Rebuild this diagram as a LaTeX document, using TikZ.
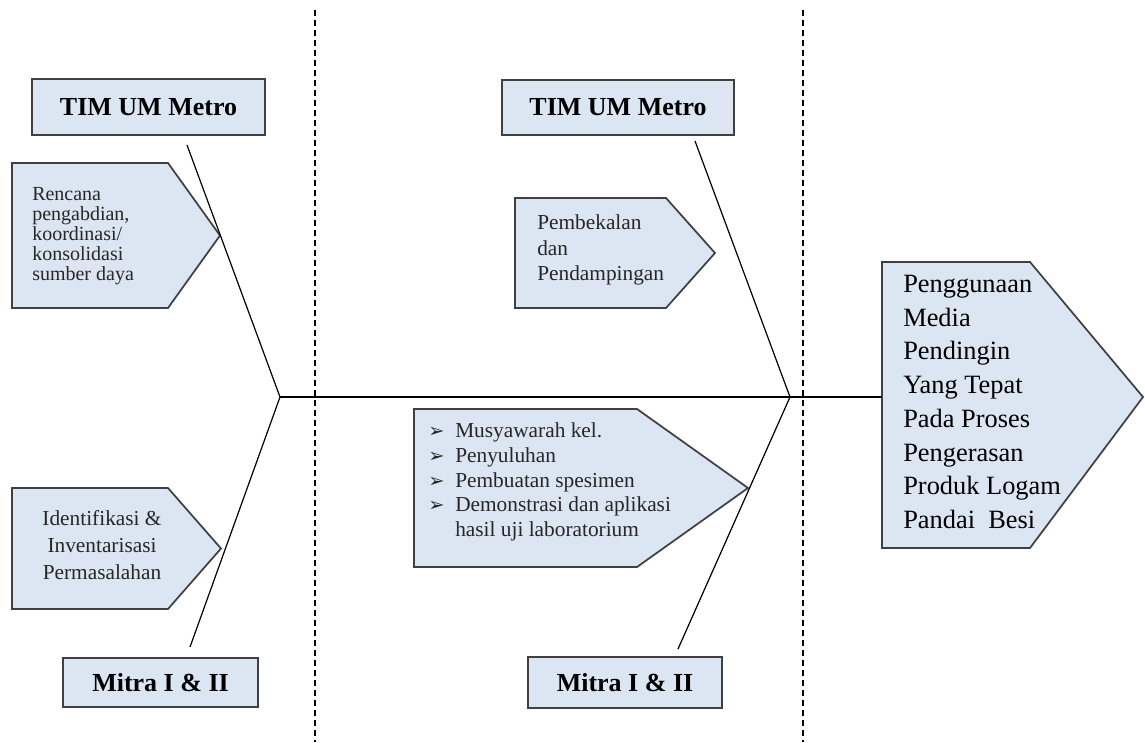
\documentclass[tikz,border=0pt]{standalone}
\usepackage{fontspec}
\setmainfont{Liberation Serif}
\newfontfamily\symfont{DejaVu Sans}
\definecolor{boxfill}{HTML}{DCE6F2}
\newcommand\pointer{\makebox[20.25pt][l]{\symfont\fontsize{14.5}{14}\selectfont ➢}}
\begin{document}
\begin{tikzpicture}[x=0.75pt,y=-0.75pt,
  box/.style={draw=black!75,fill=boxfill,line width=1.3pt},
  title/.style={box,inner sep=0pt,font=\bfseries\fontsize{19.5}{22}\selectfont},
  label/.style={inner sep=0pt,align=left,text=black!85},
  bone/.style={line width=0.9pt},
  border/.style={line width=1.1pt,dash pattern=on 4.5pt off 3pt}]
\useasboundingbox (0,0) rectangle (1145,742);
\draw[border] (315,10) -- (315,742);
\draw[border] (803,10) -- (803,742);

\node[title,minimum width=174.75pt,minimum height=42pt] (timA) at (148.5,107) {TIM UM Metro};
\node[title,minimum width=146.25pt,minimum height=36.75pt] (mitraA) at (160.5,682.5) {Mitra I \& II};
\node[title,minimum width=174pt,minimum height=41.25pt] (timB) at (618,107.5) {TIM UM Metro};
\node[title,minimum width=145.5pt,minimum height=38.25pt] (mitraB) at (625,682.5) {Mitra I \& II};

\draw[box] (12,163) -- (168,163) -- (220,235.5) -- (168,308) -- (12,308) -- cycle;
\draw[box] (12,488) -- (168,488) -- (221,548.5) -- (168,609) -- (12,609) -- cycle;
\draw[box] (515,198) -- (666,198) -- (715,253) -- (666,308) -- (515,308) -- cycle;
\draw[box] (414,409) -- (637,409) -- (748,488) -- (637,567) -- (414,567) -- cycle;
\draw[box] (882,262) -- (1030,262) -- (1143,397) -- (1030,548) -- (882,548) -- cycle;

\node[label,anchor=west,font=\fontsize{15}{15}\selectfont] (rencana) at (32,236) {Rencana\\pengabdian,\\koordinasi/\\konsolidasi\\sumber daya};
\node[label,align=center,font=\fontsize{16}{20}\selectfont] (ident) at (102,545) {Identifikasi \&\\Inventarisasi\\Permasalahan};
\node[label,anchor=west,font=\fontsize{16}{19.4}\selectfont] (bekal) at (537,250) {Pembekalan\\dan\\Pendampingan};
\node[label,anchor=west,font=\fontsize{16}{18.5}\selectfont] (kegiatan) at (428,482) {\pointer Musyawarah kel.\\\pointer Penyuluhan\\\pointer Pembuatan spesimen\\\pointer Demonstrasi dan aplikasi\\\makebox[20.25pt]{}hasil uji laboratorium};
\node[label,anchor=west,text=black,font=\fontsize{19.8}{25.3}\selectfont] (hasil) at (903,402) {Penggunaan\\Media\\Pendingin\\Yang Tepat\\Pada Proses\\Pengerasan\\Produk Logam\\Pandai\ \ Besi};

\coordinate (hubA) at (280,397);
\coordinate (hubB) at (790,397);
\coordinate (topA) at (187,145);
\coordinate (botA) at (190,647);
\coordinate (topB) at (695,141);
\coordinate (botB) at (678,649);
\coordinate (goal) at (882,397);
\draw[bone] (topA) -- (hubA) -- (botA);
\draw[bone] (topB) -- (hubB) -- (botB);
\draw[bone] (hubA) -- (hubB) -- (goal);
\end{tikzpicture}
\end{document}
